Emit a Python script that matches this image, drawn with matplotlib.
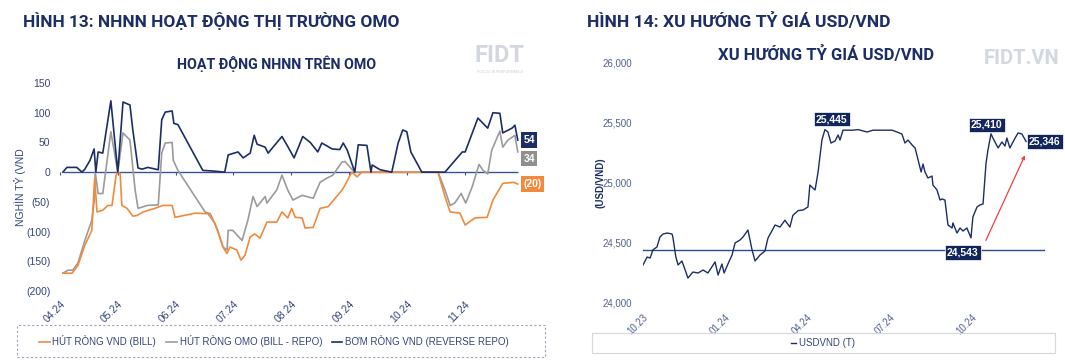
import numpy as np
import matplotlib.pyplot as plt
from matplotlib.patches import Rectangle
from matplotlib.lines import Line2D
from matplotlib.ticker import FuncFormatter

plt.rcParams['font.family'] = ['Liberation Sans', 'DejaVu Sans']

NAVY = '#1d2d66'
GREY = '#9b9b9b'
ORANGE = '#f28a3d'
TXT = '#34447a'

# ---- left chart: OMO activity (x = months since 04.24) ----
omo_ticks = ['04.24', '05.24', '06.24', '07.24', '08.24', '09.24', '10.24', '11.24']

navy_x = [0.05, 0.12, 0.29, 0.38, 0.43, 0.52, 0.59, 0.62, 0.66, 0.74, 0.88, 1.00, 1.09, 1.21, 1.26,
          1.35, 1.42, 1.52, 1.70, 1.76, 1.82, 1.94, 1.97, 2.04, 2.47, 2.63, 2.85, 2.91, 3.08, 3.17,
          3.29, 3.36, 3.41, 3.55, 3.60, 3.84, 3.93, 4.05, 4.20, 4.33, 4.46, 4.53, 4.71, 4.84, 4.90,
          4.97, 5.10, 5.16, 5.31, 5.38, 5.40, 5.54, 5.74, 5.85, 5.93, 6.00, 6.07, 6.26, 6.66, 6.96,
          7.01, 7.23, 7.40, 7.49, 7.61, 7.66, 7.82, 7.87, 7.92]
navy_y = [0, 8, 8, 0, 5, 20, 39, 0, 34, 32, 120, 0, 118, 113, 71,
          7, 5, 8, 4, 88, 101, 103, 82, 80, 3, 2, 0, 29, 34, 24,
          32, 62, 47, 42, 32, 60, 45, 24, 60, 50, 34, 49, 39, 38, 49,
          37, 0, 46, 45, 0, 12, 4, 0, 49, 71, 68, 34, 0, 0, 34,
          34, 91, 74, 100, 99, 66, 74, 79, 54]

grey_x = [0.05, 0.14, 0.22, 0.31, 0.43, 0.55, 0.59, 0.61, 0.66, 0.74, 0.88, 1.00, 1.09, 1.21, 1.30,
          1.35, 1.51, 1.70, 1.76, 1.82, 1.94, 1.96, 2.04, 2.51, 2.60, 2.73, 2.82, 2.89, 2.91, 2.99,
          3.15, 3.25, 3.34, 3.41, 3.55, 3.58, 3.75, 3.84, 3.94, 4.03, 4.19, 4.38, 4.50, 4.62, 4.72,
          4.88, 4.93, 5.02, 5.10, 6.54, 6.66, 6.75, 6.83, 6.94, 7.02, 7.13, 7.25, 7.32, 7.40, 7.47,
          7.61, 7.66, 7.75, 7.87, 7.92]
grey_y = [-170, -165, -165, -153, -115, -81, -50, 0, -36, -36, 68, 0, 66, 54, -30,
          -61, -56, -55, 32, 49, 50, 20, 3, -67, -70, -98, -126, -131, -98, -98,
          -115, -81, -41, -58, -41, -52, -30, -5, -30, -47, -39, -44, -17, -10, -5,
          17, 18, 8, 0, 0, -30, -56, -52, -36, -52, -25, 13, 3, -3, 37,
          69, 42, 54, 62, 34]

orange_x = [0.05, 0.21, 0.31, 0.43, 0.55, 0.60, 0.64, 0.74, 0.83, 0.90, 0.97, 1.00, 1.04, 1.07, 1.16,
            1.26, 1.33, 1.44, 1.64, 1.78, 1.94, 1.99, 2.34, 2.56, 2.68, 2.82, 2.89, 2.94, 3.06, 3.13,
            3.20, 3.29, 3.37, 3.46, 3.58, 3.75, 3.84, 3.94, 4.01, 4.07, 4.19, 4.24, 4.38, 4.50, 4.64,
            4.76, 4.88, 4.93, 5.05, 5.14, 5.22, 6.54, 6.66, 6.75, 6.92, 7.01, 7.18, 7.39, 7.49, 7.66,
            7.84, 7.92]
orange_y = [-170, -170, -157, -123, -98, -10, -67, -64, -56, -56, -5, 0, -2, -56, -61,
            -74, -73, -67, -61, -56, -56, -76, -69, -70, -86, -126, -137, -126, -131, -148,
            -140, -109, -104, -111, -84, -84, -67, -77, -61, -76, -77, -94, -93, -61, -58,
            -44, -30, -22, 0, -8, 0, 0, -41, -67, -69, -89, -77, -76, -47, -19,
            -17, -20]

# ---- right chart: USD/VND (x = months since 10.23) ----
fx_ticks = ['10.23', '01.24', '04.24', '07.24', '10.24']
usd_x = [0.00, 0.15, 0.26, 0.36, 0.51, 0.62, 0.73, 0.88, 1.06, 1.09, 1.20, 1.28, 1.42, 1.50, 1.64,
         1.82, 2.01, 2.19, 2.37, 2.63, 2.74, 2.88, 2.96, 3.10, 3.25, 3.36, 3.54, 3.65, 3.83, 3.98,
         4.09, 4.27, 4.45, 4.56, 4.82, 5.00, 5.18, 5.36, 5.47, 5.66, 5.84, 6.02, 6.09, 6.20, 6.28,
         6.39, 6.53, 6.64, 6.75, 6.86, 7.01, 7.12, 7.19, 7.30, 7.66, 7.85, 8.18, 8.39, 8.76, 9.09,
         9.27, 9.45, 9.56, 9.67, 9.82, 9.93, 10.04, 10.15, 10.22, 10.29, 10.40, 10.55, 10.58, 10.73, 10.84,
         10.91, 11.02, 11.13, 11.28, 11.31, 11.46, 11.57, 11.68, 11.82, 11.97, 12.04, 12.19, 12.30, 12.41, 12.52,
         12.59, 12.70, 12.77, 12.96, 13.10, 13.21, 13.28, 13.39, 13.58, 13.69, 13.83, 13.98]
usd_y = [24317, 24383, 24375, 24442, 24467, 24550, 24575, 24583, 24575, 24550, 24383, 24317, 24350, 24300, 24208,
         24258, 24250, 24275, 24250, 24342, 24233, 24325, 24250, 24325, 24400, 24500, 24525, 24550, 24608, 24442,
         24350, 24400, 24433, 24540, 24650, 24633, 24690, 24633, 24730, 24770, 24775, 24800, 24983, 24958, 24942,
         25092, 25358, 25445, 25425, 25333, 25350, 25400, 25358, 25440, 25440, 25445, 25425, 25440, 25440, 25440,
         25425, 25408, 25333, 25358, 25317, 25292, 25192, 25092, 25158, 25092, 25042, 25058, 24983, 24942, 24858,
         24867, 24858, 24650, 24625, 24667, 24583, 24625, 24600, 24625, 24543, 24717, 24800, 24817, 24825, 25167,
         25275, 25410, 25375, 25292, 25342, 25308, 25375, 25292, 25375, 25417, 25408, 25346]
usd_labels = [25445, 25410, 25346, 24543]
support_level = 24440

fig = plt.figure(figsize=(10.65, 3.6), dpi=100)
W, H = 1065, 360


def box(px_l, px_t, px_r, px_b):
    return [px_l / W, 1 - px_b / H, (px_r - px_l) / W, (px_b - px_t) / H]


# headers
fig.text(23 / W, 1 - 21 / H, 'HÌNH 13: NHNN HOẠT ĐỘNG THỊ TRƯỜNG OMO', fontsize=12.4,
         fontweight='bold', color=NAVY, va='center', family='Roboto')
fig.text(587 / W, 1 - 22 / H, 'HÌNH 14: XU HƯỚNG TỶ GIÁ USD/VND', fontsize=12.6,
         fontweight='bold', color=NAVY, va='center', family='Roboto')

# ---------------- left ----------------
ax = fig.add_axes(box(60, 83, 520, 291))
ax.plot(grey_x, grey_y, color=GREY, lw=1.2, zorder=3)
ax.plot(orange_x, orange_y, color=ORANGE, lw=1.2, zorder=4)
ax.plot(navy_x, navy_y, color=NAVY, lw=1.2, zorder=5)
ax.hlines(0, 0.05, 7.93, color='#3b5396', lw=1.0, zorder=2)
ax.vlines(range(len(omo_ticks)), -4, 0, color='#3b5396', lw=0.8, zorder=2)
ax.set_xlim(0, 460 / 57.8)
ax.set_ylim(-200, 150)
ax.set_yticks(np.arange(-200, 151, 50))
ax.yaxis.set_major_formatter(FuncFormatter(lambda v, p: f'({abs(int(v))})' if v < 0 else f'{int(v)}'))
ax.set_xticks(range(len(omo_ticks)))
ax.set_xticklabels(omo_ticks, rotation=45, ha='right', rotation_mode='anchor')
ax.tick_params(length=0, labelsize=7.5, labelcolor=TXT)
ax.tick_params(axis='y', pad=7)
ax.tick_params(axis='x', pad=6)
for s in ax.spines.values():
    s.set_visible(False)
ax.set_ylabel('NGHÌN TỶ (VND', fontsize=7.5, color=TXT, labelpad=0)
ax.set_title('HOẠT ĐỘNG NHNN TRÊN OMO', fontsize=10.3, fontweight='bold', color=NAVY,
             family='Roboto', pad=10, x=0.47)

end_lbls = [(navy_y[-1], NAVY, f'{navy_y[-1]}', 0),
            (grey_y[-1], '#8f8f8f', f'{grey_y[-1]}', -5),
            (orange_y[-1], ORANGE, f'({abs(orange_y[-1])})', 0)]
for val, c, t, dy in end_lbls:
    ax.annotate(t, (navy_x[-1], val), xytext=(4, dy), textcoords='offset points',
                ha='left', va='center', fontsize=7.5, fontweight='bold', color='white',
                bbox=dict(boxstyle='square,pad=0.25', fc=c, ec='none'), annotation_clip=False)

fig.text(500 / W, 1 - 55 / H, 'FIDT', fontsize=17, fontweight='bold', color='#d3d7e0',
         ha='center', va='center', family='Roboto')
fig.text(500 / W, 1 - 72 / H, 'FOCUS ON PERFORMANCE', fontsize=2.5, color='#c9ced8',
         ha='center', va='center')

hl = [Line2D([], [], color=ORANGE, lw=1.2), Line2D([], [], color=GREY, lw=1.2),
      Line2D([], [], color=NAVY, lw=1.2)]
fig.legend(hl, ['HÚT RÒNG VND (BILL)', 'HÚT RÒNG OMO (BILL - REPO)', 'BƠM RÒNG VND (REVERSE REPO)'],
           loc='center', bbox_to_anchor=(274 / W, 1 - 341 / H), ncol=3, frameon=False,
           fontsize=7, labelcolor=TXT, handlelength=1.1, handletextpad=0.3, columnspacing=1.0)
fig.patches.append(Rectangle((17 / W, 1 - 357 / H), 528 / W, 32 / H, transform=fig.transFigure,
                             fill=False, ec='#9aa3b8', lw=0.8, ls=(0, (2, 2))))

# ---------------- right ----------------
ax2 = fig.add_axes(box(643, 63, 1045, 303))
ax2.plot(usd_x, usd_y, color=NAVY, lw=1.0, zorder=4)
ax2.axhline(support_level, color='#2d4a8f', lw=1.0, zorder=3)
ax2.set_xlim(0, 402 / 27.4)
ax2.set_ylim(24000, 26000)
ax2.set_yticks(np.arange(24000, 26001, 500))
ax2.yaxis.set_major_formatter(FuncFormatter(lambda v, p: f'{int(v):,}'))
ax2.set_xticks(np.arange(len(fx_ticks)) * 3)
ax2.set_xticklabels(fx_ticks, rotation=45, ha='right', rotation_mode='anchor')
ax2.tick_params(length=0, labelsize=7, labelcolor='#51608f')
ax2.tick_params(axis='y', pad=8)
ax2.tick_params(axis='x', pad=7)
for s in ax2.spines.values():
    s.set_visible(False)
ax2.set_ylabel('(USD/VND)', fontsize=7, color=NAVY, fontweight='bold', labelpad=-2)
ax2.set_title('XU HƯỚNG TỶ GIÁ USD/VND', fontsize=12, fontweight='bold', color=NAVY,
              family='Roboto', pad=1, x=0.455)

offsets = {25445: (5, 4, 'center', 'bottom'), 25410: (-3, 3, 'center', 'bottom'),
           25346: (2, 0, 'left', 'center'), 24543: (-6, -7, 'center', 'top')}
for v in usd_labels:
    i = usd_y.index(v)
    dx, dy, ha, va = offsets[v]
    ax2.annotate(f'{v:,}', (usd_x[i], v), xytext=(dx, dy), textcoords='offset points',
                 ha=ha, va=va, fontsize=7.5, fontweight='bold', color='white',
                 bbox=dict(boxstyle='square,pad=0.2', fc='#13265c', ec='white', lw=0.5),
                 annotation_clip=False, zorder=6)

i_min = usd_y.index(24543)
ax2.annotate('', xy=(usd_x[-1], usd_y[-1] - 95), xytext=(usd_x[i_min] + 0.5, support_level + 60),
             arrowprops=dict(arrowstyle='-|>', color='#f04040', lw=0.9, mutation_scale=5))

fig.text(1022 / W, 1 - 58 / H, 'FIDT.VN', fontsize=14.5, fontweight='bold', color='#d3d7e0',
         ha='center', va='center', family='Roboto')

fig.legend([Line2D([], [], color=NAVY, lw=1.0)], ['USDVND (T)'], loc='center',
           bbox_to_anchor=(823 / W, 1 - 343 / H), frameon=False, fontsize=7, labelcolor=TXT,
           handlelength=0.5, handletextpad=0.3)
fig.patches.append(Rectangle((592 / W, 1 - 353 / H), 463 / W, 20 / H, transform=fig.transFigure,
                             fill=False, ec='#d5d8de', lw=0.8))

fig.savefig('out.png', dpi=100)
